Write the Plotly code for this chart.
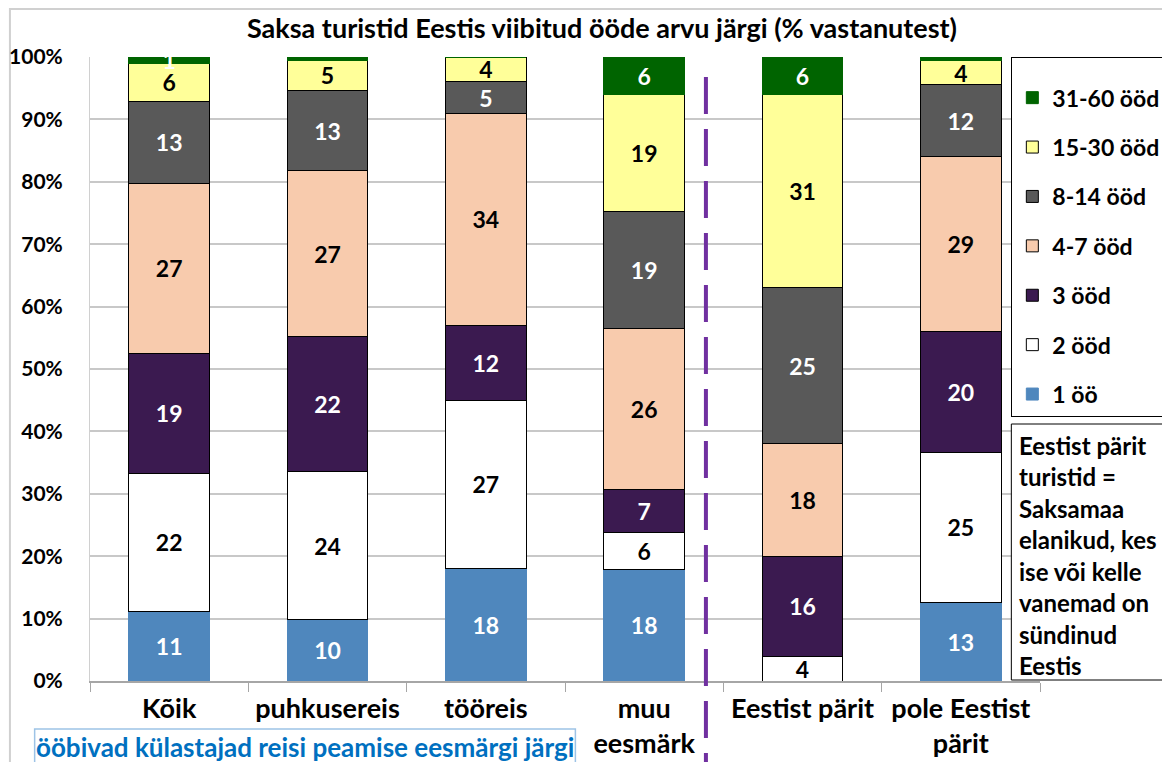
import plotly.graph_objects as go

categories = ["Kõik", "puhkusereis", "tööreis", "muu<br>eesmärk", "Eestist pärit", "pole Eestist<br>pärit"]
series_names = ["1 öö", "2 ööd", "3 ööd", "4-7 ööd", "8-14 ööd", "15-30 ööd", "31-60 ööd"]
one_night = [11, 10, 18, 18, 0, 13]
two_nights = [22, 24, 27, 6, 4, 25]
three_nights = [19, 22, 12, 7, 16, 20]
four_seven = [27, 27, 34, 26, 18, 29]
eight_fourteen = [13, 13, 5, 19, 25, 12]
fifteen_thirty = [6, 5, 4, 19, 31, 4]
thirtyone_sixty = [1, 0.5, 0, 6, 6, 0.6]
y_ticks = [0, 10, 20, 30, 40, 50, 60, 70, 80, 90, 100]
y_tick_labels = ["0%", "10%", "20%", "30%", "40%", "50%", "60%", "70%", "80%", "90%", "100%"]
note_lines = ["Eestist pärit", "turistid =", "Saksamaa", "elanikud, kes", "ise või kelle",
              "vanemad on", "sündinud", "Eestis"]
title_text = "Saksa turistid Eestis viibitud ööde arvu järgi (% vastanutest)"
group_note = "ööbivad külastajad reisi peamise eesmärgi järgi"

series_values = [one_night, two_nights, three_nights, four_seven, eight_fourteen, fifteen_thirty, thirtyone_sixty]
fills = ["#4F87BD", "#FFFFFF", "#3B1A50", "#F8CBAD", "#595959", "#FFFF99", "#006400"]
lines = ["#4F87BD", "#000000", "#000000", "#000000", "#000000", "#000000", "#006400"]
text_cols = ["white", "black", "white", "black", "white", "black", "white"]

FONT = "Lato"
OFF = 8  # page body margin

fig = go.Figure()
n = len(series_names)
for i, (name, vals, fc, lc, tc) in enumerate(zip(series_names, series_values, fills, lines, text_cols)):
    fig.add_trace(go.Bar(
        x=categories, y=vals, name=name, legendgroup=name, legendrank=100 + (n - i),
        marker=dict(color=fc, line=dict(color=lc, width=1)),
        text=[str(round(v)) if v >= 1 else "" for v in vals],
        textposition="inside", insidetextanchor="middle", textangle=0,
        constraintext="none",
        textfont=dict(family=FONT, size=23, color=tc, weight="bold"),
        hoverinfo="skip",
    ))

# reference pixel geometry of the plot area
X0, X1, Y0, Y1 = 90, 1051, 57, 681
pw, ph = X1 - X0, Y1 - Y0
L, T = X0 - OFF, Y0 - OFF
R = 1170 - (X1 - OFF)
B = 762 - (Y1 - OFF)

def px_x(x):
    return (x - X0) / pw

def px_y(y):
    return (Y1 - y) / ph

shapes = [
    dict(type="rect", xref="paper", yref="paper", x0=px_x(9), x1=px_x(1190), y0=px_y(790), y1=px_y(9),
         line=dict(color="#D0D0D0", width=2), fillcolor="rgba(0,0,0,0)", layer="below"),
    dict(type="line", xref="x", yref="paper", x0=3.39, x1=3.39, y0=px_y(790), y1=px_y(72),
         line=dict(color="#7030A0", width=4, dash="37px,15px")),
    dict(type="rect", xref="paper", yref="paper", x0=px_x(34), x1=px_x(581), y0=px_y(790), y1=px_y(729),
         line=dict(color="#9DC3E6", width=1.5), fillcolor="white"),
    dict(type="rect", xref="paper", yref="paper", x0=px_x(1022), x1=px_x(1190), y0=px_y(680), y1=px_y(424),
         line=dict(color="black", width=1), fillcolor="white"),
]

annotations = [
    dict(text=group_note, xref="paper", yref="paper", x=px_x(307), y=px_y(747),
         showarrow=False, xanchor="center", yanchor="middle",
         font=dict(family=FONT, size=26, color="#0070C0", weight="bold")),
]
for i, ln in enumerate(note_lines):
    annotations.append(dict(text=ln, xref="paper", yref="paper", x=px_x(1028), y=px_y(445 + i * 31.5),
                            showarrow=False, xanchor="left", yanchor="middle",
                            font=dict(family=FONT, size=24, color="black", weight="bold")))

fig.update_layout(
    width=1170, height=762,
    margin=dict(l=L, r=R, t=T, b=B),
    barmode="stack", barnorm="percent", bargap=0.49,
    paper_bgcolor="white", plot_bgcolor="white",
    title=dict(text=title_text, x=(602 - OFF) / 1170, xanchor="center", y=1 - (29 - OFF) / 762,
               yanchor="middle", yref="container",
               font=dict(family=FONT, size=27, color="black", weight="bold")),
    xaxis=dict(type="category", showgrid=False, showline=True, linecolor="#A6A6A6", linewidth=1.5,
               ticks="outside", tickson="boundaries", ticklen=9, tickcolor="#A6A6A6", automargin=False,
               tickfont=dict(family=FONT, size=27, color="black", weight="bold"), ticklabelstandoff=3),
    yaxis=dict(range=[0, 100], tickvals=y_ticks, ticktext=y_tick_labels, showgrid=True, automargin=False,
               gridcolor="#C8C8C8", gridwidth=1.5, showline=True, linecolor="#D0D0D0", zeroline=False,
               tickfont=dict(family=FONT, size=21, color="black", weight="bold"), ticklabelstandoff=22),
    legend=dict(x=px_x(1022), y=1, xanchor="left", yanchor="top", traceorder="grouped",
                tracegroupgap=16.5, bordercolor="black", borderwidth=1, bgcolor="white",
                title=dict(text=" ", font=dict(size=14)),
                font=dict(family=FONT, size=23, color="black", weight="bold"), itemwidth=30),
    shapes=shapes, annotations=annotations,
    showlegend=True,
)

fig.write_html("out.html")
